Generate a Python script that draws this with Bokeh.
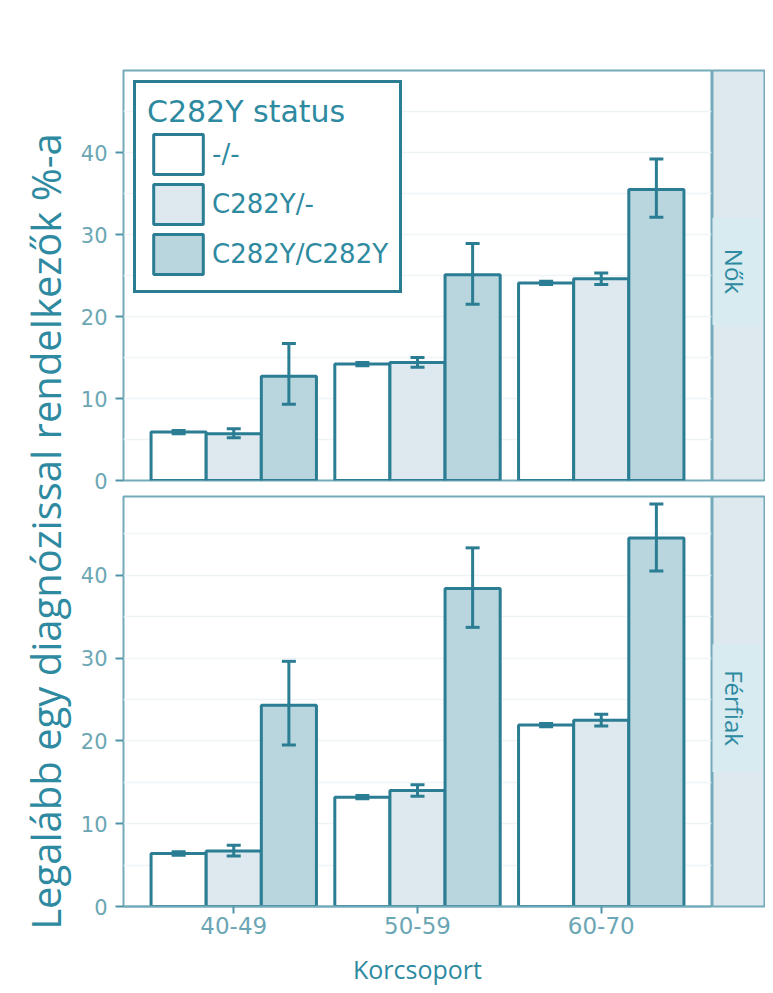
import math
from bokeh.plotting import figure
from bokeh.models import (ColumnDataSource, FactorRange, Range1d, FixedTicker,
                          Whisker, TeeHead, Legend, LegendItem, Label)
from bokeh.transform import dodge
from bokeh.layouts import row, column
from bokeh.embed import file_html
from bokeh.resources import INLINE

# ---------------- data ----------------
ages = ["40-49", "50-59", "60-70"]
statuses = ["-/-", "C282Y/-", "C282Y/C282Y"]
panel_names = ["Nők", "Férfiak"]

# Nők (women)
nok_neg = [5.9, 14.2, 24.1]
nok_neg_lo = [5.7, 14.0, 23.9]
nok_neg_hi = [6.1, 14.4, 24.3]
nok_het = [5.7, 14.4, 24.6]
nok_het_lo = [5.2, 13.8, 23.9]
nok_het_hi = [6.3, 15.0, 25.3]
nok_hom = [12.7, 25.1, 35.5]
nok_hom_lo = [9.3, 21.5, 32.1]
nok_hom_hi = [16.7, 28.9, 39.2]

# Férfiak (men)
ferfi_neg = [6.4, 13.2, 21.9]
ferfi_neg_lo = [6.2, 13.0, 21.7]
ferfi_neg_hi = [6.6, 13.4, 22.1]
ferfi_het = [6.7, 14.0, 22.5]
ferfi_het_lo = [6.1, 13.3, 21.8]
ferfi_het_hi = [7.4, 14.7, 23.2]
ferfi_hom = [24.3, 38.4, 44.5]
ferfi_hom_lo = [19.5, 33.7, 40.5]
ferfi_hom_hi = [29.6, 43.3, 48.6]

y_ticks = [0, 10, 20, 30, 40]
y_minor = [5, 15, 25, 35, 45]

# ---------------- style ----------------
OUTLINE = "#2a7d93"
FILLS = ["#ffffff", "#dde9ee", "#b9d5de"]
PANEL_BORDER = "#74abba"
GRID = "#eef3f5"
TICK_LABEL = "#6ba6b4"
TICK_LINE = "#4f93a6"
TITLE = "#2e8aa0"
STRIP_FILL = "#dde9ee"
STRIP_LABEL_FILL = "#d8ebf1"
MONO = "DejaVu Sans"
HUM = "Open Sans"

OFFSETS = [-0.3, 0.0, 0.3]
BAR_W = 0.3
LEFT_W = 75          # width of the y-title column
PLOT_BORDER_L = 48   # room for y ticks / labels


def make_panel(series, y_end, height, mb_top, mb_bottom, show_x, show_legend):
    p = figure(width=PLOT_BORDER_L + 588 + 1, height=height, x_range=FactorRange(*ages),
               y_range=Range1d(0, y_end), output_backend="svg",
               toolbar_location=None, min_border_left=PLOT_BORDER_L, min_border_right=1,
               min_border_top=mb_top, min_border_bottom=mb_bottom,
               x_axis_location="below" if show_x else None)
    p.x_range.range_padding = 0.1
    p.x_range.range_padding_units = "absolute"
    p.background_fill_color = "white"
    p.border_fill_color = "white"
    p.outline_line_color = PANEL_BORDER
    p.outline_line_width = 2
    p.xgrid.grid_line_color = None
    p.ygrid.grid_line_color = GRID
    p.ygrid.grid_line_width = 1.5
    p.ygrid.minor_grid_line_color = GRID
    p.ygrid.minor_grid_line_width = 1.5

    p.yaxis.ticker = FixedTicker(ticks=y_ticks, minor_ticks=y_minor)
    p.yaxis.axis_line_color = None
    p.yaxis.minor_tick_line_color = None
    p.yaxis.major_tick_line_color = TICK_LINE
    p.yaxis.major_tick_line_width = 2
    p.yaxis.major_tick_out = 8
    p.yaxis.major_tick_in = 0
    p.yaxis.major_label_standoff = 8
    p.yaxis.major_label_text_font = MONO
    p.yaxis.major_label_text_font_size = "21px"
    p.yaxis.major_label_text_color = TICK_LABEL

    if show_x:
        ax = p.xaxis[0]
        ax.axis_line_color = PANEL_BORDER
        ax.axis_line_width = 2
        ax.major_tick_line_color = TICK_LINE
        ax.major_tick_line_width = 2
        ax.major_tick_out = 7
        ax.major_tick_in = 0
        ax.major_label_standoff = 3
        ax.major_label_text_font = MONO
        ax.major_label_text_font_size = "23px"
        ax.major_label_text_color = TICK_LABEL
        ax.axis_label = "Korcsoport"
        ax.axis_label_text_font = HUM
        ax.axis_label_text_font_size = "25px"
        ax.axis_label_text_font_style = "normal"
        ax.axis_label_text_color = TITLE
        ax.axis_label_standoff = 15

    items = []
    for k, (vals, lo, hi) in enumerate(series):
        src = ColumnDataSource(dict(age=ages, val=vals, lo=lo, hi=hi))
        r = p.vbar(x=dodge("age", OFFSETS[k], range=p.x_range), top="val",
                   width=BAR_W, source=src, fill_color=FILLS[k],
                   line_color=OUTLINE, line_width=3)
        w = Whisker(source=src, base=dodge("age", OFFSETS[k], range=p.x_range),
                    lower="lo", upper="hi", line_color=OUTLINE, line_width=3,
                    lower_head=TeeHead(size=14, line_color=OUTLINE, line_width=3),
                    upper_head=TeeHead(size=14, line_color=OUTLINE, line_width=3),
                    level="overlay")
        p.add_layout(w)
        items.append(LegendItem(label=statuses[k], renderers=[r]))

    if show_legend:
        lg = Legend(items=items, location="top_left", title="C282Y status")
        lg.margin = 10
        lg.padding = 11
        lg.spacing = 0
        lg.glyph_width = 62
        lg.glyph_height = 50
        lg.label_standoff = 3
        lg.title_standoff = 0
        lg.border_line_color = OUTLINE
        lg.border_line_alpha = 1.0
        lg.border_line_width = 3
        lg.background_fill_color = "white"
        lg.background_fill_alpha = 1.0
        lg.title_text_font = MONO
        lg.title_text_font_size = "30px"
        lg.title_text_font_style = "normal"
        lg.title_text_color = TITLE
        lg.label_text_font = MONO
        lg.label_text_font_size = "26px"
        lg.label_text_color = TITLE
        p.add_layout(lg)
    return p


def make_strip(name, height, mb_top, mb_bottom, yfrac, pad_along):
    s = figure(width=53, height=height, x_range=Range1d(0, 1), y_range=Range1d(0, 1),
               output_backend="svg", toolbar_location=None,
               x_axis_location=None, y_axis_location=None,
               min_border_left=0, min_border_right=1,
               min_border_top=mb_top, min_border_bottom=mb_bottom)
    s.background_fill_color = STRIP_FILL
    s.border_fill_color = "white"
    s.outline_line_color = PANEL_BORDER
    s.outline_line_width = 2
    s.xgrid.grid_line_color = None
    s.ygrid.grid_line_color = None
    lab = Label(x=0.42, y=yfrac, text=name, angle=-math.pi / 2,
                text_align="center", text_baseline="middle",
                text_font=HUM, text_font_size="24px", text_color=TITLE,
                background_fill_color=STRIP_LABEL_FILL, background_fill_alpha=1.0,
                padding=(pad_along, 10))
    s.add_layout(lab)
    return s


TOP_H, BOT_H = 494, 499
top = make_panel([(nok_neg, nok_neg_lo, nok_neg_hi),
                  (nok_het, nok_het_lo, nok_het_hi),
                  (nok_hom, nok_hom_lo, nok_hom_hi)],
                 50, TOP_H, 70, 14, False, True)
bot = make_panel([(ferfi_neg, ferfi_neg_lo, ferfi_neg_hi),
                  (ferfi_het, ferfi_het_lo, ferfi_het_hi),
                  (ferfi_hom, ferfi_hom_lo, ferfi_hom_hi)],
                 49.5, BOT_H, 2, 87, True, False)
top_strip = make_strip(panel_names[0], TOP_H, 70, 14, 0.51, 31)
bot_strip = make_strip(panel_names[1], BOT_H, 2, 87, 0.484, 26)

# y-axis title spanning both panels
TOTAL_H = TOP_H + BOT_H
tf = figure(width=LEFT_W, height=TOTAL_H, x_range=Range1d(0, LEFT_W),
            y_range=Range1d(0, TOTAL_H),
            output_backend="svg", toolbar_location=None,
            x_axis_location=None, y_axis_location=None,
            min_border=0, min_border_left=0, min_border_right=0,
            min_border_top=0, min_border_bottom=0)
tf.outline_line_color = None
tf.xgrid.grid_line_color = None
tf.ygrid.grid_line_color = None
tf.border_fill_color = "white"
tf.background_fill_color = "white"
tf.add_layout(Label(x=45, y=TOTAL_H - 531, text="Legalább egy diagnózissal rendelkezők %-a",
                    angle=math.pi / 2, text_align="center", text_baseline="middle",
                    text_font=HUM, text_font_size="40px", text_color=TITLE))

layout = row(tf, column(row(top, top_strip), row(bot, bot_strip)))

open("out.html", "w").write(file_html(layout, INLINE))
